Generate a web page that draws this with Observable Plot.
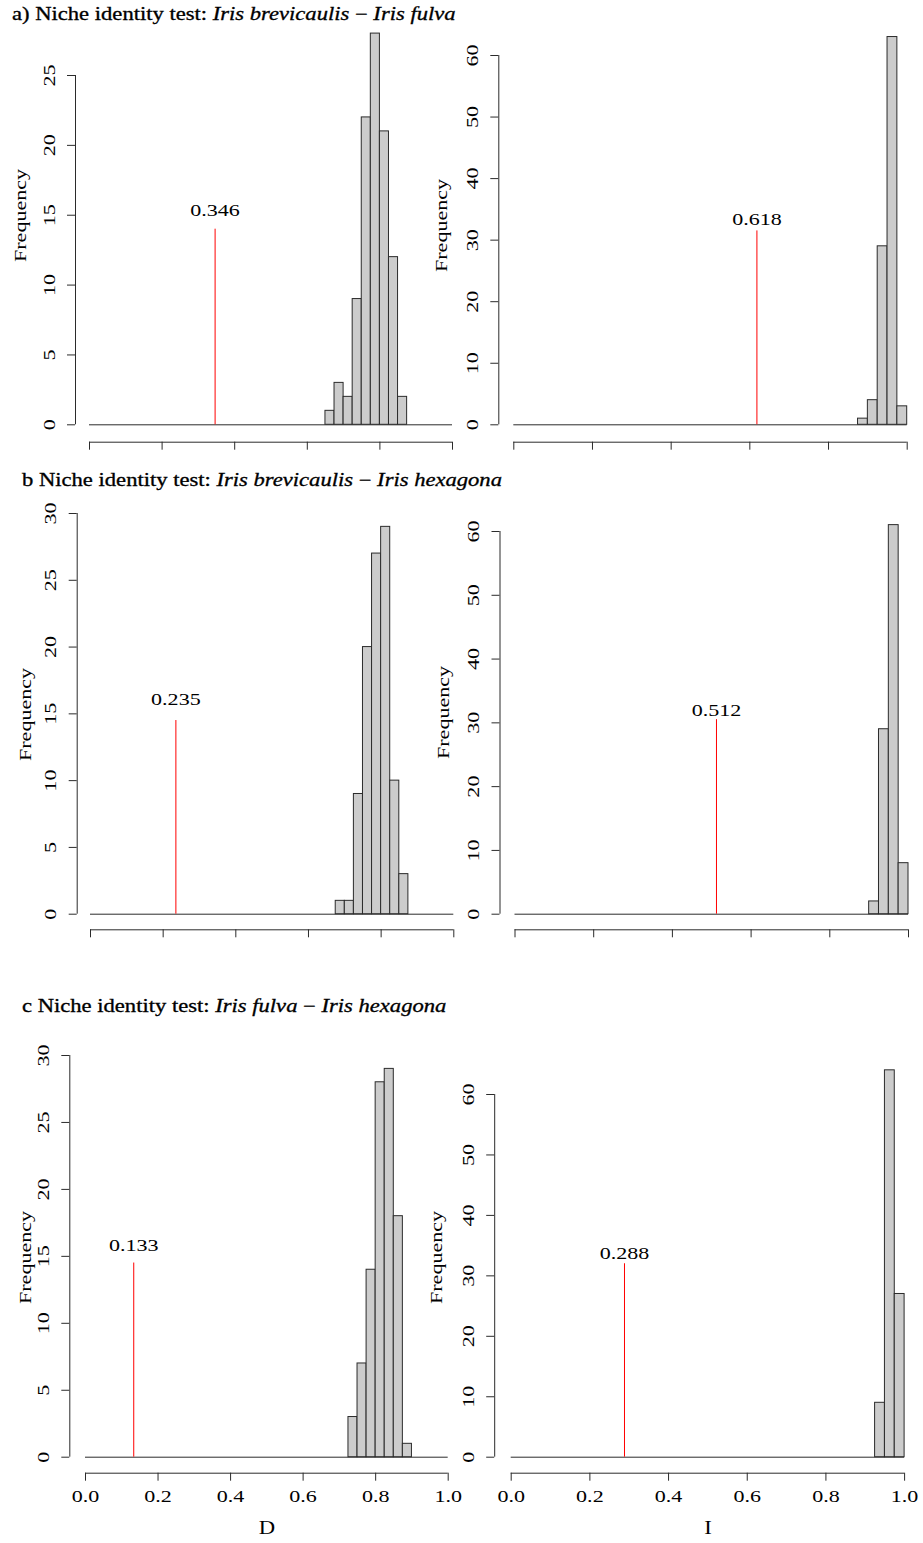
<!DOCTYPE html>
<html>
<head>
<meta charset="utf-8">
<script src="https://cdn.jsdelivr.net/npm/d3@7"></script>
<script src="https://cdn.jsdelivr.net/npm/@observablehq/plot@0.6"></script>
<style>
  body { margin: 0; background: #fff; }
  #fig { position: relative; width: 923px; height: 1543px; font-family: "Liberation Serif", "Times New Roman", serif; color: #000; overflow: hidden; }
  .title { position: absolute; font-size: 18px; line-height: 20px; white-space: nowrap; z-index: 2; transform: scaleX(1.255); transform-origin: 0 50%; -webkit-text-stroke: 0.3px #000; }
  .panel { position: absolute; }
  .panel svg { overflow: visible; background: transparent; }
</style>
</head>
<body>
<div id="fig"></div>
<script>
// Null distributions of niche overlap (100 pseudoreplicates), bins of width 0.025
const binWidth = 0.025;

const brevFulvaD_bins = [0.65, 0.675, 0.70, 0.725, 0.75, 0.775, 0.80, 0.825, 0.85];
const brevFulvaD_counts = [1, 3, 2, 9, 22, 28, 21, 12, 2];
const brevFulvaI_bins = [0.875, 0.90, 0.925, 0.95, 0.975];
const brevFulvaI_counts = [1, 4, 29, 63, 3];

const brevHexD_bins = [0.675, 0.70, 0.725, 0.75, 0.775, 0.80, 0.825, 0.85];
const brevHexD_counts = [1, 1, 9, 20, 27, 29, 10, 3];
const brevHexI_bins = [0.90, 0.925, 0.95, 0.975];
const brevHexI_counts = [2, 29, 61, 8];

const fulvaHexD_bins = [0.725, 0.75, 0.775, 0.80, 0.825, 0.85, 0.875];
const fulvaHexD_counts = [3, 7, 14, 28, 29, 18, 1];
const fulvaHexI_bins = [0.925, 0.95, 0.975];
const fulvaHexI_counts = [9, 64, 27];

// Observed overlap between the species pairs, and the height of the marker line
const observedD = [0.346, 0.235, 0.133];
const observedI = [0.618, 0.512, 0.288];
const markerHeightD = [14, 14.5, 14.5];
const markerHeightI = [31.5, 30.5, 32];

// Tick values
const ticksX = [0, 0.2, 0.4, 0.6, 0.8, 1.0];
const ticksY_D = [[0, 5, 10, 15, 20, 25], [0, 5, 10, 15, 20, 25, 30], [0, 5, 10, 15, 20, 25, 30]];
const ticksY_I = [0, 10, 20, 30, 40, 50, 60];

// Row titles
const rowLetters = ["a)", "b", "c"];
const speciesA = ["Iris brevicaulis", "Iris brevicaulis", "Iris fulva"];
const speciesB = ["Iris fulva", "Iris hexagona", "Iris hexagona"];
const metricNames = ["D", "I"];

const ink = "#2b2b2b";
const fontSize = 17.5;
const textStretch = 1.26; // wide-set serif lettering
const fig = document.getElementById("fig");

// Row titles, positioned in page pixels
const titleLayout = [{left: 12, top: 4}, {left: 22, top: 470}, {left: 22, top: 996}];
rowLetters.forEach((letter, i) => {
  const div = document.createElement("div");
  div.className = "title";
  div.style.left = titleLayout[i].left + "px";
  div.style.top = titleLayout[i].top + "px";
  div.innerHTML = `${letter} Niche identity test: <i>${speciesA[i]}</i> \u2212 <i>${speciesB[i]}</i>`;
  fig.appendChild(div);
});

// Panel frames (page pixels): where x = 0 and 1, y = 0 and top tick fall, and axis offsets
const layout = [
  // row a
  {left: 0, top: 25, width: 460, height: 440, x0: 89, x1: 452, y0: 424.3, yTop: 75, yAxisX: 75, xAxisY: 441.7, labelDy: -13, freq: [20, 215]},
  {left: 420, top: 25, width: 503, height: 440, x0: 513.3, x1: 906.7, y0: 424.3, yTop: 55, yAxisX: 498.3, xAxisY: 441.7, labelDy: -6, freq: [441, 225]},
  // row b
  {left: 0, top: 495, width: 460, height: 455, x0: 90, x1: 453.3, y0: 913.7, yTop: 513, yAxisX: 76.7, xAxisY: 929.3, labelDy: -16, freq: [25, 714]},
  {left: 420, top: 495, width: 503, height: 455, x0: 514.5, x1: 908, y0: 913.7, yTop: 531, yAxisX: 499.5, xAxisY: 929.3, labelDy: -4, freq: [443, 712]},
  // row c
  {left: 0, top: 1020, width: 460, height: 523, x0: 85, x1: 447.7, y0: 1456.7, yTop: 1055, yAxisX: 69.3, xAxisY: 1472.7, labelDy: -12, freq: [25, 1257]},
  {left: 420, top: 1020, width: 503, height: 523, x0: 510.7, x1: 904.1, y0: 1456.7, yTop: 1094, yAxisX: 494.2, xAxisY: 1472.7, labelDy: -5, freq: [436, 1257]}
];

const panelData = [
  {bins: brevFulvaD_bins, counts: brevFulvaD_counts, obs: observedD[0], h: markerHeightD[0], ticksY: ticksY_D[0]},
  {bins: brevFulvaI_bins, counts: brevFulvaI_counts, obs: observedI[0], h: markerHeightI[0], ticksY: ticksY_I},
  {bins: brevHexD_bins, counts: brevHexD_counts, obs: observedD[1], h: markerHeightD[1], ticksY: ticksY_D[1]},
  {bins: brevHexI_bins, counts: brevHexI_counts, obs: observedI[1], h: markerHeightI[1], ticksY: ticksY_I},
  {bins: fulvaHexD_bins, counts: fulvaHexD_counts, obs: observedD[2], h: markerHeightD[2], ticksY: ticksY_D[2]},
  {bins: fulvaHexI_bins, counts: fulvaHexI_counts, obs: observedI[2], h: markerHeightI[2], ticksY: ticksY_I}
];

// Widen every text element along its own baseline
function stretchText(svg) {
  svg.querySelectorAll("text").forEach(t => {
    const tr = t.getAttribute("transform") || "";
    const x = +(t.getAttribute("x") || 0);
    if (x && !/em$/.test(t.getAttribute("x"))) {
      t.removeAttribute("x");
      t.setAttribute("transform", `${tr} translate(${x},0) scale(${textStretch},1)`);
    } else {
      t.setAttribute("transform", `${tr} scale(${textStretch},1)`);
    }
  });
}

panelData.forEach((d, i) => {
  const p = layout[i];
  const bottomRow = i >= 4;
  const yMax = d.ticksY[d.ticksY.length - 1];
  const bars = d.bins.map((x, j) => ({x, n: d.counts[j]}));
  const axDx = p.yAxisX - p.x0;
  const axDy = p.xAxisY - p.y0;

  const marks = [
    // baseline of the histogram
    Plot.ruleY([0], {x1: 0, x2: 1, stroke: ink}),
    // histogram bars
    Plot.rectY(bars, {x1: "x", x2: b => b.x + binWidth, y1: 0, y2: "n", fill: "#cccccc", stroke: ink, strokeWidth: 1}),
    // observed value
    Plot.ruleX([d.obs], {y1: 0, y2: d.h, stroke: "red", strokeWidth: 1}),
    Plot.text([d.obs], {x: v => v, y: d.h, text: v => d3.format(".3f")(v), lineAnchor: "bottom", dy: p.labelDy, fontSize, fill: "#000"}),
    // y axis
    Plot.ruleX([0], {y1: 0, y2: yMax, dx: axDx, stroke: ink}),
    Plot.axisY(d.ticksY, {tickSize: 8, tickRotate: -90, tickPadding: 13, dx: axDx, fontSize, label: null, stroke: ink, fill: "#000"}),
    // x axis
    Plot.ruleY([0], {x1: 0, x2: 1, dy: axDy, stroke: ink}),
    Plot.axisX(ticksX, {tickSize: 8, tickPadding: 8, dy: axDy, tickFormat: ".1f", fontSize, label: null, stroke: ink, fill: bottomRow ? "#000" : "none"}),
    // axis titles
    Plot.text(["Frequency"], {frameAnchor: "top-left", textAnchor: "middle", lineAnchor: "middle", dx: p.freq[0] - p.x0, dy: p.freq[1] - p.yTop, rotate: -90, fontSize, fill: "#000"})
  ];
  if (bottomRow) {
    marks.push(Plot.text([metricNames[i % 2]], {x: 0.5, y: 0, dy: 71.3, lineAnchor: "middle", fontSize: 18, fill: "#000"}));
  }

  const chart = Plot.plot({
    width: p.width,
    height: p.height,
    marginLeft: p.x0 - p.left,
    marginRight: p.left + p.width - p.x1,
    marginTop: p.yTop - p.top,
    marginBottom: p.top + p.height - p.y0,
    style: {fontFamily: "'Liberation Serif', 'Times New Roman', serif", fontSize: fontSize + "px", background: "transparent", overflow: "visible"},
    x: {domain: [0, 1]},
    y: {domain: [0, yMax]},
    marks
  });
  stretchText(chart);

  const holder = document.createElement("div");
  holder.className = "panel";
  holder.style.left = p.left + "px";
  holder.style.top = p.top + "px";
  holder.appendChild(chart);
  fig.appendChild(holder);
});
</script>
</body>
</html>
